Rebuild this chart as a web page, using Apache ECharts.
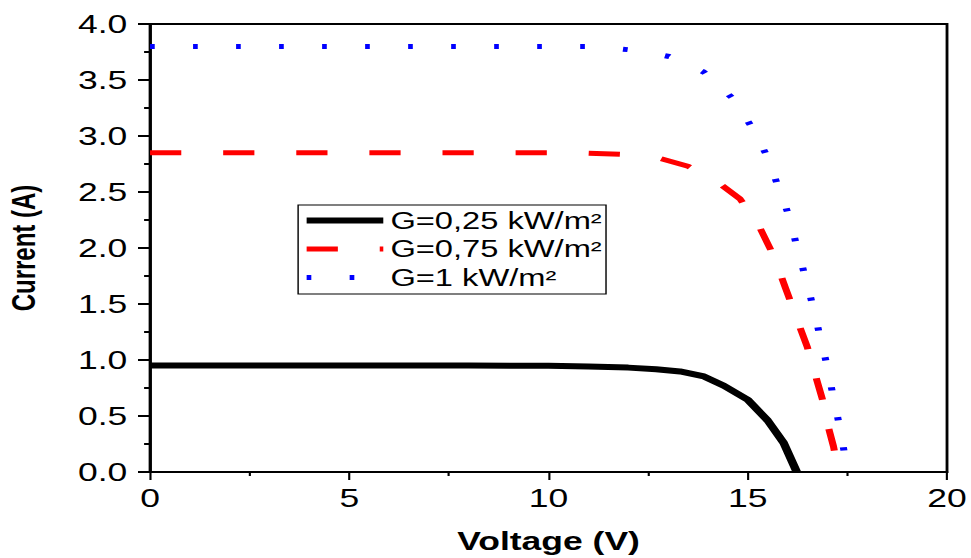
<!DOCTYPE html>
<html>
<head>
<meta charset="utf-8">
<script src="https://cdn.jsdelivr.net/npm/echarts@6/dist/echarts.min.js"></script>
<style>
  html, body { margin: 0; padding: 0; overflow: hidden; background: #fff; width: 971px; height: 558px; }
  /* The figure is laid out on a narrower canvas and widened horizontally */
  #chart { width: 684px; height: 558px; transform: scaleX(1.4196); transform-origin: 0 0; }
</style>
</head>
<body>
<div id="chart"></div>
<script>
// I-V curves of the PV module for three irradiance levels
const seriesNames = ['G=0,25 kW/m²', 'G=0,75 kW/m²', 'G=1 kW/m²'];

const voltageLow = [0, 2, 4, 6, 8, 10, 11, 12, 12.7, 13.3, 13.9, 14.4, 15, 15.5, 15.9, 16.23];
const currentLow = [0.95, 0.95, 0.95, 0.95, 0.95, 0.948, 0.943, 0.932, 0.918, 0.898, 0.853, 0.77, 0.645, 0.46, 0.26, 0];

const voltageMid = [0, 2, 4, 6, 8, 10, 11, 12, 12.8, 13.5, 14.2, 14.8, 15.25, 15.65, 15.95, 16.28, 16.49, 16.7, 16.88, 17.0, 17.15, 17.28];
const currentMid = [2.85, 2.85, 2.85, 2.85, 2.85, 2.85, 2.845, 2.835, 2.80, 2.73, 2.60, 2.44, 2.22, 1.93, 1.64, 1.32, 1.12, 0.86, 0.64, 0.43, 0.23, 0];

const voltageHigh = [0, 2, 4, 6, 8, 10, 10.94, 12.03, 13.03, 13.9, 14.61, 15.1, 15.47, 15.74, 16.02, 16.22, 16.42, 16.62, 16.8, 16.98, 17.13, 17.29, 17.43, 17.5];
const currentHigh = [3.8, 3.8, 3.8, 3.8, 3.8, 3.8, 3.80, 3.77, 3.71, 3.57, 3.34, 3.08, 2.83, 2.57, 2.30, 2.03, 1.77, 1.50, 1.23, 0.964, 0.70, 0.43, 0.16, 0];

const xTickLabels = ['0', '5', '10', '15', '20'];
const yTickLabels = ['0.0', '0.5', '1.0', '1.5', '2.0', '2.5', '3.0', '3.5', '4.0'];

const zip = (xs, ys) => xs.map((x, i) => [x, ys[i]]);
const font = 'Liberation Sans, Arial, Helvetica, sans-serif';

const lineStyles = [
  { color: '#000', width: 6, type: 'solid' },
  { color: '#ff0000', width: 5, type: [22, 29.5] },
  { color: '#0000ff', width: 5, type: [3.3, 27] }
];
const curves = [
  zip(voltageLow, currentLow),
  zip(voltageMid, currentMid),
  zip(voltageHigh, currentHigh)
];

const chart = echarts.init(document.getElementById('chart'), null, { renderer: 'svg' });

chart.setOption({
  animation: false,
  backgroundColor: '#fff',
  grid: {
    left: 105.7, top: 24, width: 561.4, height: 448,
    show: true, borderColor: '#000', borderWidth: 2,
    containLabel: false, outerBoundsMode: 'none'
  },
  legend: {
    orient: 'vertical',
    left: 210, top: 205,
    itemWidth: 54, itemHeight: 14, itemGap: 5.5,
    padding: [4, 3, 5, 3],
    borderColor: '#000', borderWidth: 1,
    backgroundColor: '#fff',
    selectedMode: false,
    textStyle: { fontSize: 23, color: '#000', fontFamily: font },
    // line-only keys: plain stroke in each series' own style, no marker
    data: seriesNames.map((name, i) => ({
      name,
      lineStyle: { color: lineStyles[i].color, width: lineStyles[i].width, type: lineStyles[i].type },
      itemStyle: { opacity: 0 }
    }))
  },
  xAxis: {
    type: 'value', min: 0, max: 20, interval: 5,
    name: 'Voltage (V)', nameLocation: 'middle', nameGap: 57,
    nameTextStyle: { fontSize: 25, fontWeight: 'bold', color: '#000', fontFamily: font },
    axisLine: { lineStyle: { color: '#000', width: 2 } },
    axisTick: { length: 8, lineStyle: { color: '#000', width: 1.5 } },
    minorTick: { show: true, splitNumber: 2, length: 4, lineStyle: { color: '#000', width: 1.5 } },
    splitLine: { show: false },
    axisLabel: {
      fontSize: 25, margin: 14, color: '#000', fontFamily: font,
      formatter: v => xTickLabels[Math.round(v / 5)]
    }
  },
  yAxis: {
    type: 'value', min: 0, max: 4, interval: 0.5,
    name: 'Current (A)', nameLocation: 'middle', nameRotate: 90, nameGap: 77.5,
    nameTextStyle: { fontSize: 24, fontWeight: 'bold', color: '#000', fontFamily: font },
    axisLine: { lineStyle: { color: '#000', width: 2 } },
    axisTick: { length: 8.5, lineStyle: { color: '#000', width: 2 } },
    minorTick: { show: true, splitNumber: 2, length: 4.2, lineStyle: { color: '#000', width: 2 } },
    splitLine: { show: false },
    axisLabel: {
      fontSize: 25, margin: 16, color: '#000', fontFamily: font,
      formatter: v => yTickLabels[Math.round(v / 0.5)]
    }
  },
  series: seriesNames.map((name, i) => ({
    name, type: 'line', symbol: 'none', smooth: false,
    data: curves[i],
    lineStyle: lineStyles[i],
    itemStyle: { color: lineStyles[i].color }
  }))
});
</script>
</body>
</html>
